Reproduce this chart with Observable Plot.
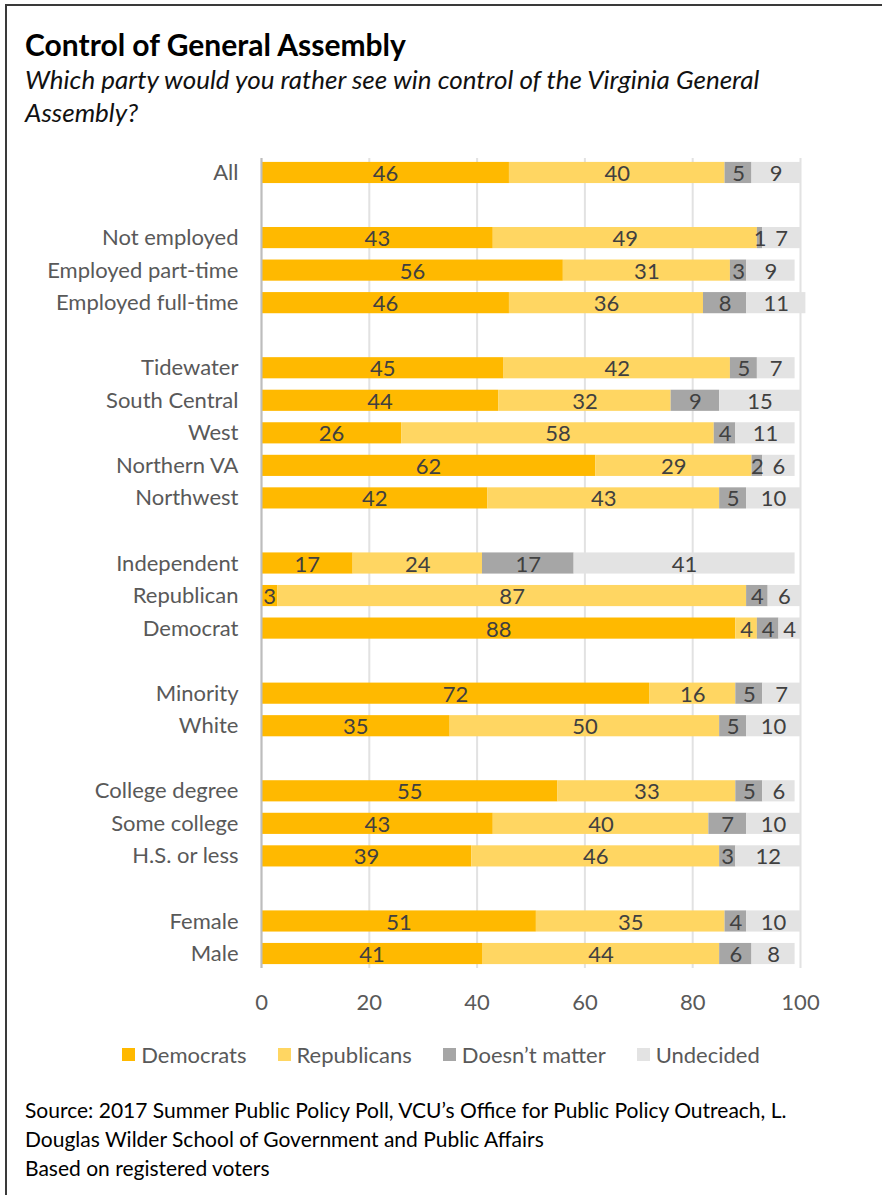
<!DOCTYPE html>
<html>
<head>
<meta charset="utf-8">
<script src="https://cdn.jsdelivr.net/npm/d3@7"></script>
<script src="https://cdn.jsdelivr.net/npm/@observablehq/plot@0.6"></script>
<style>
  html, body { margin: 0; padding: 0; background: #fff; }
  body { width: 882px; height: 1195px; position: relative; overflow: hidden; font-family: Lato, "Open Sans", sans-serif; }
  #frame { position: absolute; left: 5px; top: 4px; right: -10px; bottom: -10px; border-left: 2px solid #3a3a3a; border-top: 2px solid #3a3a3a; }
  #title { position: absolute; left: 25px; top: 26px; font-size: 30px; font-weight: bold; color: #000; }
  #subtitle { position: absolute; left: 25px; top: 63px; font-size: 26px; font-style: italic; color: #111; line-height: 33px; width: 800px; }
  #chart { position: absolute; left: 0; top: 140px; }
  #legend { position: absolute; left: 0; width: 882px; top: 1041px; display: flex; justify-content: center; gap: 31px; font-size: 22px; color: #595959; }
  #legend .item { display: flex; align-items: center; }
  #legend .sw { width: 13px; height: 13px; margin-right: 6px; }
  #caption { position: absolute; left: 25px; top: 1095px; font-size: 21px; color: #000; line-height: 29px; }
</style>
</head>
<body>
<div id="frame"></div>
<div id="title">Control of General Assembly</div>
<div id="subtitle">Which party would you rather see win control of the Virginia General Assembly?</div>
<div id="chart"></div>
<div id="legend"></div>
<div id="caption">Source: 2017 Summer Public Policy Poll, VCU’s Office for Public Policy Outreach, L.<br>Douglas Wilder School of Government and Public Affairs<br>Based on registered voters</div>
<script>
// Rows (null = blank gap between groups)
const rows = ["All", null,
  "Not employed", "Employed part-time", "Employed full-time", null,
  "Tidewater", "South Central", "West", "Northern VA", "Northwest", null,
  "Independent", "Republican", "Democrat", null,
  "Minority", "White", null,
  "College degree", "Some college", "H.S. or less", null,
  "Female", "Male"];
const categories = rows.filter(r => r !== null);

const seriesNames = ["Democrats", "Republicans", "Doesn’t matter", "Undecided"];
const democrats    = [46, 43, 56, 46, 45, 44, 26, 62, 42, 17, 3, 88, 72, 35, 55, 43, 39, 51, 41];
const republicans  = [40, 49, 31, 36, 42, 32, 58, 29, 43, 24, 87, 4, 16, 50, 33, 40, 46, 35, 44];
const doesntMatter = [5, 1, 3, 8, 5, 9, 4, 2, 5, 17, 4, 4, 5, 5, 5, 7, 3, 4, 6];
const undecided    = [9, 7, 9, 11, 7, 15, 11, 6, 10, 41, 6, 4, 7, 10, 6, 10, 12, 10, 8];
const xTicks = [0, 20, 40, 60, 80, 100];
const colors = ["#FFB900", "#FFD662", "#A6A6A6", "#E3E3E3"];

const seriesValues = [democrats, republicans, doesntMatter, undecided];
const data = categories.flatMap((c, i) => seriesNames.map((s, j) => ({cat: c, series: s, value: seriesValues[j][i]})));

let g = 0;
const domain = rows.map(r => r === null ? `__gap${g++}` : r);

const chart = Plot.plot({
  width: 882,
  height: 878,
  marginLeft: 261,
  marginRight: 82,
  marginTop: 18,
  marginBottom: 50,
  style: {fontFamily: "Lato, 'Open Sans', sans-serif", background: "transparent"},
  x: {domain: [0, 100], axis: null},
  y: {domain, axis: null, paddingInner: 0.35, paddingOuter: 0.12, round: false},
  color: {domain: seriesNames, range: colors},
  marks: [
    Plot.gridX(xTicks, {stroke: "#e2e2e2", strokeOpacity: 1, strokeWidth: 2}),
    Plot.barX(data, Plot.stackX({x: "value", y: "cat", z: "series", fill: "series", order: seriesNames})),
    Plot.ruleX([0], {stroke: "#bdbdbd", strokeWidth: 2}),
    Plot.text(data, Plot.stackX({x: "value", y: "cat", z: "series", order: seriesNames, text: d => String(d.value), fill: "#404040", fontSize: 22, dy: 1})),
    Plot.axisY({tickSize: 0, tickPadding: 23, fontSize: 22, color: "#595959", label: null, tickFormat: d => d.startsWith("__gap") ? "" : d}),
    Plot.axisX(xTicks, {tickSize: 0, tickPadding: 26, fontSize: 22, color: "#595959", label: null, tickFormat: d => String(d)})
  ]
});
document.getElementById("chart").appendChild(chart);

const legend = document.getElementById("legend");
seriesNames.forEach((s, i) => {
  const it = document.createElement("div");
  it.className = "item";
  it.innerHTML = `<span class="sw" style="background:${colors[i]}"></span><span>${s}</span>`;
  legend.appendChild(it);
});
</script>
</body>
</html>
